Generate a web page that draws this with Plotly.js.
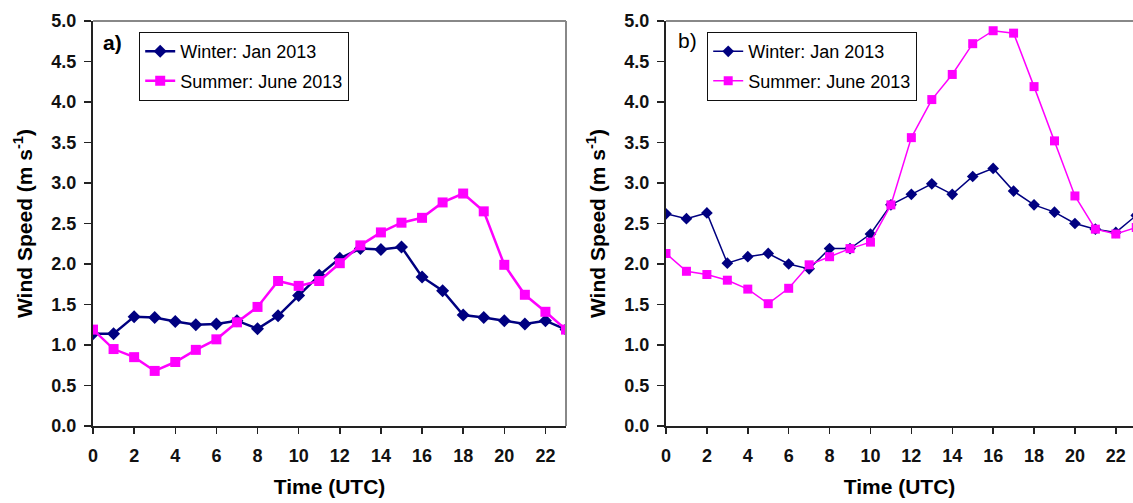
<!DOCTYPE html>
<html>
<head>
<meta charset="utf-8">
<script src="https://cdn.plot.ly/plotly-3.0.1.min.js"></script>
<style>
  html, body { margin: 0; padding: 0; background: #fff; }
  #chart { width: 1133px; height: 503px; }
</style>
</head>
<body>
<div id="chart"></div>
<script>
// Hour of day (UTC)
const hours = [0, 1, 2, 3, 4, 5, 6, 7, 8, 9, 10, 11, 12, 13, 14, 15, 16, 17, 18, 19, 20, 21, 22, 23];

// Panel a) mean wind speed (m/s)
const winterA = [1.14, 1.14, 1.35, 1.34, 1.29, 1.25, 1.26, 1.30, 1.20, 1.36, 1.61, 1.86,
                 2.07, 2.19, 2.18, 2.21, 1.84, 1.67, 1.37, 1.34, 1.30, 1.26, 1.30, 1.19];
const summerA = [1.19, 0.95, 0.85, 0.68, 0.79, 0.94, 1.07, 1.28, 1.47, 1.79, 1.73, 1.79,
                 2.01, 2.23, 2.39, 2.51, 2.57, 2.76, 2.87, 2.65, 1.99, 1.62, 1.41, 1.19];

// Panel b) mean wind speed (m/s)
const winterB = [2.62, 2.56, 2.63, 2.01, 2.09, 2.13, 2.00, 1.94, 2.19, 2.19, 2.37, 2.73,
                 2.86, 2.99, 2.86, 3.08, 3.18, 2.90, 2.73, 2.64, 2.50, 2.43, 2.39, 2.60];
const summerB = [2.13, 1.91, 1.87, 1.80, 1.69, 1.51, 1.70, 1.99, 2.09, 2.19, 2.27, 2.73,
                 3.56, 4.03, 4.34, 4.72, 4.88, 4.85, 4.19, 3.52, 2.84, 2.43, 2.37, 2.45];

const seriesNames = ['Winter: Jan 2013', 'Summer: June 2013'];
const panelLabels = ['a)', 'b)'];
const yTitle = 'Wind Speed (m s<sup>-1</sup>)';
const xTitle = 'Time (UTC)';

const NAVY = '#000080';
const MAGENTA = '#FF00FF';
const FONT = 'Liberation Sans, Arial, sans-serif';

function winterTrace(y, xa, ya, lg, lw, ms) {
  return {
    x: hours, y: y, xaxis: xa, yaxis: ya, legend: lg, legendgroup: lg + 'w',
    name: seriesNames[0], type: 'scatter', mode: 'lines+markers',
    line: {color: NAVY, width: lw},
    marker: {symbol: 'diamond', color: NAVY, size: ms},
    cliponaxis: true
  };
}
function summerTrace(y, xa, ya, lg, lw, ms) {
  return {
    x: hours, y: y, xaxis: xa, yaxis: ya, legend: lg, legendgroup: lg + 's',
    name: seriesNames[1], type: 'scatter', mode: 'lines+markers',
    line: {color: MAGENTA, width: lw},
    marker: {symbol: 'square', color: MAGENTA, size: ms},
    cliponaxis: true
  };
}

const traces = [
  winterTrace(winterA, 'x', 'y', 'legend', 2.5, 10),
  summerTrace(summerA, 'x', 'y', 'legend', 2.5, 10),
  winterTrace(winterB, 'x2', 'y2', 'legend2', 1.5, 9),
  summerTrace(summerB, 'x2', 'y2', 'legend2', 1.5, 9)
];

const tickFont = {family: FONT, size: 18, color: '#111', weight: 'bold'};
const titleFont = {family: FONT, size: 21, color: '#000', weight: 'bold'};

function xAxis(domain, range, anchor) {
  return {
    domain: domain, range: range, anchor: anchor,
    tickmode: 'linear', tick0: 0, dtick: 2,
    ticks: 'outside', ticklen: 6, tickwidth: 1.5, tickcolor: '#222',
    ticklabelstandoff: 6,
    showline: true, linecolor: '#222', linewidth: 2,
    showgrid: false, zeroline: false,
    tickfont: tickFont,
    title: {text: xTitle, font: titleFont, standoff: 15},
    automargin: false
  };
}
function yAxis(anchor) {
  return {
    domain: [0, 1], range: [0, 5], anchor: anchor,
    tickmode: 'linear', tick0: 0, dtick: 0.5, tickformat: '.1f',
    ticks: 'outside', ticklen: 7, tickwidth: 1.5, tickcolor: '#222',
    ticklabelstandoff: 4,
    showline: true, linecolor: '#222', linewidth: 2,
    showgrid: false, zeroline: false,
    tickfont: tickFont,
    title: {text: yTitle, font: titleFont, standoff: 13},
    automargin: false
  };
}

const W = 1133;
const legendBase = {
  bgcolor: '#fff', bordercolor: '#111', borderwidth: 1.2,
  font: {family: FONT, size: 18, color: '#000'},
  xanchor: 'left', yanchor: 'top', traceorder: 'grouped', tracegroupgap: 3,
  itemwidth: 30
};

const layout = {
  width: 1133, height: 503,
  margin: {l: 0, r: 0, t: 21, b: 77},
  paper_bgcolor: '#fff', plot_bgcolor: '#fff',
  showlegend: true,
  xaxis: xAxis([93 / W, 566 / W], [0, 23], 'y'),
  yaxis: yAxis('x'),
  xaxis2: xAxis([666 / W, 1], [0, 22.84], 'y2'),
  yaxis2: yAxis('x2'),
  legend: Object.assign({}, legendBase, {x: 139 / W, y: 0.973}),
  legend2: Object.assign({}, legendBase, {x: 707 / W, y: 0.973}),
  shapes: [
    // grey frame on the top and right of each plot area
    {type: 'line', xref: 'x domain', yref: 'y domain', x0: 0, x1: 1, y0: 1, y1: 1, line: {color: '#888', width: 2}},
    {type: 'line', xref: 'x domain', yref: 'y domain', x0: 1, x1: 1, y0: 0, y1: 1, line: {color: '#888', width: 2}},
    {type: 'line', xref: 'x2 domain', yref: 'y2 domain', x0: 0, x1: 1, y0: 1, y1: 1, line: {color: '#888', width: 2}}
  ],
  annotations: [
    {text: panelLabels[0], xref: 'paper', yref: 'paper', x: 101 / W, y: 0.948, xanchor: 'left', yanchor: 'middle',
     showarrow: false, font: {family: FONT, size: 21, color: '#000', weight: 'bold'}},
    {text: panelLabels[1], xref: 'paper', yref: 'paper', x: 676 / W, y: 0.953, xanchor: 'left', yanchor: 'middle',
     showarrow: false, font: {family: FONT, size: 21, color: '#000'}}
  ]
};

Plotly.newPlot('chart', traces, layout, {displayModeBar: false, staticPlot: true});
</script>
</body>
</html>
